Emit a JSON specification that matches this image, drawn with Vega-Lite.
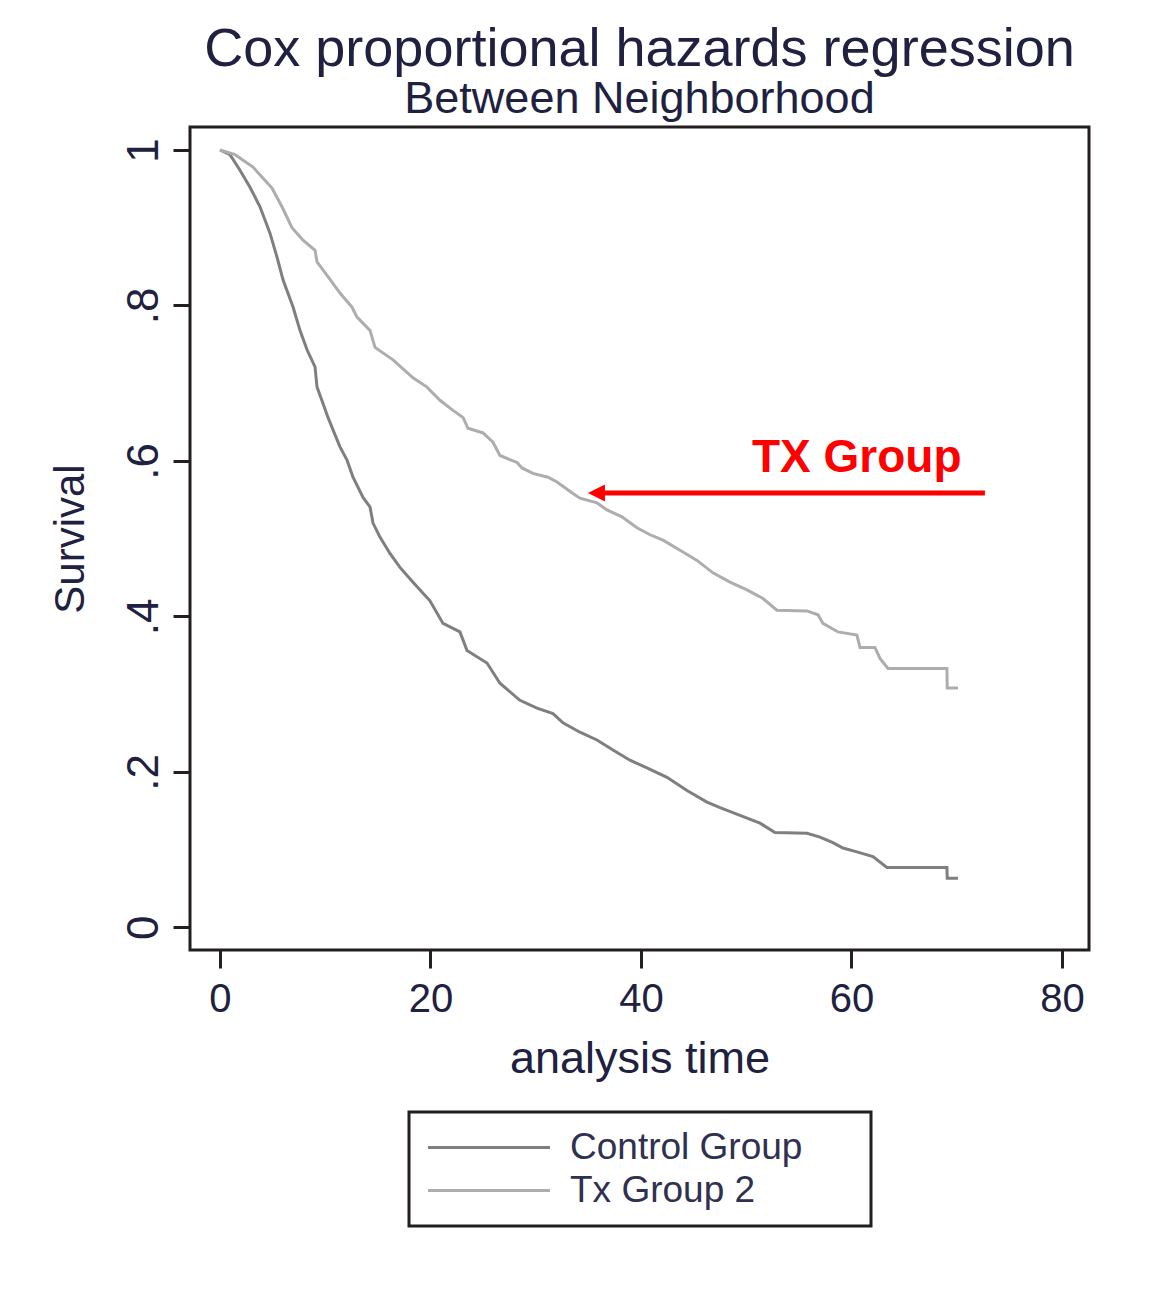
{
  "$schema": "https://vega.github.io/schema/vega-lite/v6.json",
  "width": 899,
  "height": 823,
  "autosize": {"type": "none"},
  "padding": {"left": 190, "top": 127, "right": 78, "bottom": 343},
  "background": "white",
  "title": {
    "text": "Cox proportional hazards regression",
    "subtitle": "Between Neighborhood",
    "anchor": "middle",
    "font": "Liberation Sans",
    "subtitleFont": "Liberation Sans",
    "fontSize": 54,
    "subtitleFontSize": 45,
    "fontWeight": "normal",
    "color": "#202040",
    "subtitleColor": "#202040",
    "offset": 5,
    "subtitlePadding": 0
  },
  "datasets": {
    "surv": [
      {"t": 0, "s": 1, "group": "Control Group"},
      {"t": 0.95, "s": 0.994, "group": "Control Group"},
      {"t": 1.9, "s": 0.974, "group": "Control Group"},
      {"t": 2.85, "s": 0.952, "group": "Control Group"},
      {"t": 3.8, "s": 0.927, "group": "Control Group"},
      {"t": 4.75, "s": 0.893, "group": "Control Group"},
      {"t": 5.42, "s": 0.862, "group": "Control Group"},
      {"t": 5.99, "s": 0.833, "group": "Control Group"},
      {"t": 6.94, "s": 0.798, "group": "Control Group"},
      {"t": 7.6, "s": 0.768, "group": "Control Group"},
      {"t": 8.27, "s": 0.743, "group": "Control Group"},
      {"t": 9.03, "s": 0.721, "group": "Control Group"},
      {"t": 9.22, "s": 0.695, "group": "Control Group"},
      {"t": 9.79, "s": 0.674, "group": "Control Group"},
      {"t": 10.26, "s": 0.656, "group": "Control Group"},
      {"t": 10.74, "s": 0.64, "group": "Control Group"},
      {"t": 11.4, "s": 0.618, "group": "Control Group"},
      {"t": 12.07, "s": 0.601, "group": "Control Group"},
      {"t": 12.64, "s": 0.579, "group": "Control Group"},
      {"t": 13.59, "s": 0.553, "group": "Control Group"},
      {"t": 14.25, "s": 0.541, "group": "Control Group"},
      {"t": 14.54, "s": 0.52, "group": "Control Group"},
      {"t": 15.2, "s": 0.502, "group": "Control Group"},
      {"t": 16.15, "s": 0.481, "group": "Control Group"},
      {"t": 17.1, "s": 0.463, "group": "Control Group"},
      {"t": 18.34, "s": 0.444, "group": "Control Group"},
      {"t": 19.95, "s": 0.42, "group": "Control Group"},
      {"t": 21.19, "s": 0.391, "group": "Control Group"},
      {"t": 22.8, "s": 0.38, "group": "Control Group"},
      {"t": 23.47, "s": 0.356, "group": "Control Group"},
      {"t": 25.37, "s": 0.34, "group": "Control Group"},
      {"t": 26.6, "s": 0.314, "group": "Control Group"},
      {"t": 28.5, "s": 0.292, "group": "Control Group"},
      {"t": 30.12, "s": 0.282, "group": "Control Group"},
      {"t": 31.64, "s": 0.275, "group": "Control Group"},
      {"t": 32.59, "s": 0.263, "group": "Control Group"},
      {"t": 34.2, "s": 0.251, "group": "Control Group"},
      {"t": 35.82, "s": 0.241, "group": "Control Group"},
      {"t": 37.34, "s": 0.228, "group": "Control Group"},
      {"t": 38.95, "s": 0.215, "group": "Control Group"},
      {"t": 40.57, "s": 0.205, "group": "Control Group"},
      {"t": 42.47, "s": 0.193, "group": "Control Group"},
      {"t": 44.37, "s": 0.176, "group": "Control Group"},
      {"t": 46.27, "s": 0.161, "group": "Control Group"},
      {"t": 47.51, "s": 0.154, "group": "Control Group"},
      {"t": 49.41, "s": 0.144, "group": "Control Group"},
      {"t": 51.31, "s": 0.134, "group": "Control Group"},
      {"t": 52.73, "s": 0.122, "group": "Control Group"},
      {"t": 55.77, "s": 0.121, "group": "Control Group"},
      {"t": 57.01, "s": 0.116, "group": "Control Group"},
      {"t": 58.24, "s": 0.109, "group": "Control Group"},
      {"t": 59.19, "s": 0.102, "group": "Control Group"},
      {"t": 60.52, "s": 0.097, "group": "Control Group"},
      {"t": 62.04, "s": 0.091, "group": "Control Group"},
      {"t": 63.37, "s": 0.077, "group": "Control Group"},
      {"t": 69.07, "s": 0.077, "group": "Control Group"},
      {"t": 69.1, "s": 0.063, "group": "Control Group"},
      {"t": 70.12, "s": 0.063, "group": "Control Group"},
      {"t": 0, "s": 1, "group": "Tx Group 2"},
      {"t": 1.43, "s": 0.994, "group": "Tx Group 2"},
      {"t": 3.14, "s": 0.978, "group": "Tx Group 2"},
      {"t": 4.94, "s": 0.951, "group": "Tx Group 2"},
      {"t": 5.89, "s": 0.927, "group": "Tx Group 2"},
      {"t": 6.84, "s": 0.9, "group": "Tx Group 2"},
      {"t": 7.89, "s": 0.884, "group": "Tx Group 2"},
      {"t": 9.03, "s": 0.871, "group": "Tx Group 2"},
      {"t": 9.22, "s": 0.856, "group": "Tx Group 2"},
      {"t": 10.26, "s": 0.837, "group": "Tx Group 2"},
      {"t": 11.4, "s": 0.816, "group": "Tx Group 2"},
      {"t": 12.54, "s": 0.798, "group": "Tx Group 2"},
      {"t": 13.02, "s": 0.785, "group": "Tx Group 2"},
      {"t": 14.25, "s": 0.768, "group": "Tx Group 2"},
      {"t": 14.73, "s": 0.746, "group": "Tx Group 2"},
      {"t": 16.44, "s": 0.73, "group": "Tx Group 2"},
      {"t": 18.34, "s": 0.707, "group": "Tx Group 2"},
      {"t": 19.67, "s": 0.695, "group": "Tx Group 2"},
      {"t": 20.9, "s": 0.678, "group": "Tx Group 2"},
      {"t": 22.14, "s": 0.665, "group": "Tx Group 2"},
      {"t": 23.09, "s": 0.656, "group": "Tx Group 2"},
      {"t": 23.56, "s": 0.642, "group": "Tx Group 2"},
      {"t": 24.99, "s": 0.636, "group": "Tx Group 2"},
      {"t": 25.94, "s": 0.624, "group": "Tx Group 2"},
      {"t": 26.6, "s": 0.607, "group": "Tx Group 2"},
      {"t": 28.22, "s": 0.598, "group": "Tx Group 2"},
      {"t": 28.69, "s": 0.591, "group": "Tx Group 2"},
      {"t": 29.74, "s": 0.584, "group": "Tx Group 2"},
      {"t": 31.16, "s": 0.579, "group": "Tx Group 2"},
      {"t": 32.02, "s": 0.573, "group": "Tx Group 2"},
      {"t": 33.44, "s": 0.559, "group": "Tx Group 2"},
      {"t": 34.2, "s": 0.552, "group": "Tx Group 2"},
      {"t": 35.82, "s": 0.546, "group": "Tx Group 2"},
      {"t": 36.77, "s": 0.537, "group": "Tx Group 2"},
      {"t": 38.19, "s": 0.528, "group": "Tx Group 2"},
      {"t": 39.62, "s": 0.514, "group": "Tx Group 2"},
      {"t": 40.86, "s": 0.505, "group": "Tx Group 2"},
      {"t": 42.09, "s": 0.498, "group": "Tx Group 2"},
      {"t": 43.71, "s": 0.485, "group": "Tx Group 2"},
      {"t": 45.32, "s": 0.472, "group": "Tx Group 2"},
      {"t": 46.84, "s": 0.456, "group": "Tx Group 2"},
      {"t": 48.46, "s": 0.444, "group": "Tx Group 2"},
      {"t": 50.07, "s": 0.434, "group": "Tx Group 2"},
      {"t": 51.59, "s": 0.423, "group": "Tx Group 2"},
      {"t": 52.92, "s": 0.408, "group": "Tx Group 2"},
      {"t": 55.77, "s": 0.407, "group": "Tx Group 2"},
      {"t": 56.82, "s": 0.402, "group": "Tx Group 2"},
      {"t": 57.29, "s": 0.391, "group": "Tx Group 2"},
      {"t": 58.72, "s": 0.38, "group": "Tx Group 2"},
      {"t": 60.52, "s": 0.376, "group": "Tx Group 2"},
      {"t": 60.81, "s": 0.36, "group": "Tx Group 2"},
      {"t": 62.23, "s": 0.36, "group": "Tx Group 2"},
      {"t": 62.71, "s": 0.346, "group": "Tx Group 2"},
      {"t": 63.47, "s": 0.333, "group": "Tx Group 2"},
      {"t": 69.07, "s": 0.333, "group": "Tx Group 2"},
      {"t": 69.1, "s": 0.308, "group": "Tx Group 2"},
      {"t": 70.12, "s": 0.308, "group": "Tx Group 2"}
    ],
    "arrow": [{"t": 35.8, "t2": 72.68, "s": 0.5586}],
    "arrowhead": [{"t": 35.77, "s": 0.5586}],
    "note": [{"t": 50.55, "s": 0.5856, "label": "TX Group"}]
  },
  "layer": [
    {
      "data": {"name": "surv"},
      "mark": {"type": "line", "strokeWidth": 3, "strokeCap": "butt", "strokeJoin": "miter"},
      "encoding": {
        "x": {
          "field": "t", "type": "quantitative",
          "scale": {"domain": [-2.85, 82.57], "nice": false, "zero": false},
          "axis": {
            "values": [0, 20, 40, 60, 80],
            "tickSize": 18,
            "labelFontSize": 40,
            "labelPadding": 11,
            "labelFlush": false,
            "title": "analysis time",
            "titleFontSize": 45,
            "titleY": 122,
            "titleBaseline": "alphabetic"
          }
        },
        "y": {
          "field": "s", "type": "quantitative",
          "scale": {"domain": [-0.0292, 1.0296], "nice": false, "zero": false},
          "axis": {
            "values": [0, 0.2, 0.4, 0.6, 0.8, 1],
            "tickSize": 17,
            "labelAngle": -90,
            "labelAlign": "center",
            "labelBaseline": "alphabetic",
            "labelPadding": 16,
            "labelFontSize": 44,
            "labelExpr": "replace(format(datum.value, '.1~f'), '0.', '.')",
            "title": "Survival",
            "titleFontSize": 42,
            "titleAngle": -90,
            "titleAlign": "center",
            "titleBaseline": "alphabetic",
            "titleX": -107,
            "titleY": 411.5
          }
        },
        "color": {
          "field": "group", "type": "nominal",
          "scale": {"domain": ["Control Group", "Tx Group 2"], "range": ["#7f7f7f", "#adadad"]},
          "legend": {
            "title": null,
            "orient": "none",
            "legendX": 219,
            "legendY": 985,
            "padding": 17,
            "strokeColor": "#231f20",
            "symbolType": "M-1.65,0H10.55",
            "symbolSize": 400,
            "symbolStrokeWidth": 3,
            "labelFontSize": 37,
            "labelOffset": 107,
            "rowPadding": 5,
            "labelLimit": 600,
            "labelColor": "#303050",
            "labelExpr": "datum.label + '\u00a0\u00a0\u00a0\u00a0\u00a0\u200b'"
          }
        }
      }
    },
    {
      "data": {"name": "arrow"},
      "mark": {"type": "rule", "color": "#ff0000", "strokeWidth": 5, "strokeCap": "butt"},
      "encoding": {
        "x": {"field": "t", "type": "quantitative"},
        "x2": {"field": "t2"},
        "y": {"field": "s", "type": "quantitative"}
      }
    },
    {
      "data": {"name": "arrowhead"},
      "mark": {"type": "point", "shape": "M-1,0L1,-1L1,1Z", "filled": true, "color": "#ff0000", "opacity": 1, "size": 289, "strokeWidth": 0},
      "encoding": {
        "x": {"field": "t", "type": "quantitative"},
        "y": {"field": "s", "type": "quantitative"}
      }
    },
    {
      "data": {"name": "note"},
      "mark": {"type": "text", "color": "#ff0000", "fontSize": 46, "fontWeight": "bold", "align": "left", "baseline": "alphabetic", "font": "Liberation Sans"},
      "encoding": {
        "x": {"field": "t", "type": "quantitative"},
        "y": {"field": "s", "type": "quantitative"},
        "text": {"field": "label"}
      }
    }
  ],
  "config": {
    "font": "Liberation Sans",
    "view": {"stroke": "#231f20", "strokeWidth": 3, "fill": "white"},
    "axis": {
      "domain": false,
      "grid": false,
      "tickColor": "#231f20",
      "tickWidth": 3,
      "labelColor": "#202040",
      "titleColor": "#202040",
      "labelFont": "Liberation Sans",
      "titleFont": "Liberation Sans",
      "titleFontWeight": "normal"
    },
    "legend": {"strokeWidth": 3}
  }
}
